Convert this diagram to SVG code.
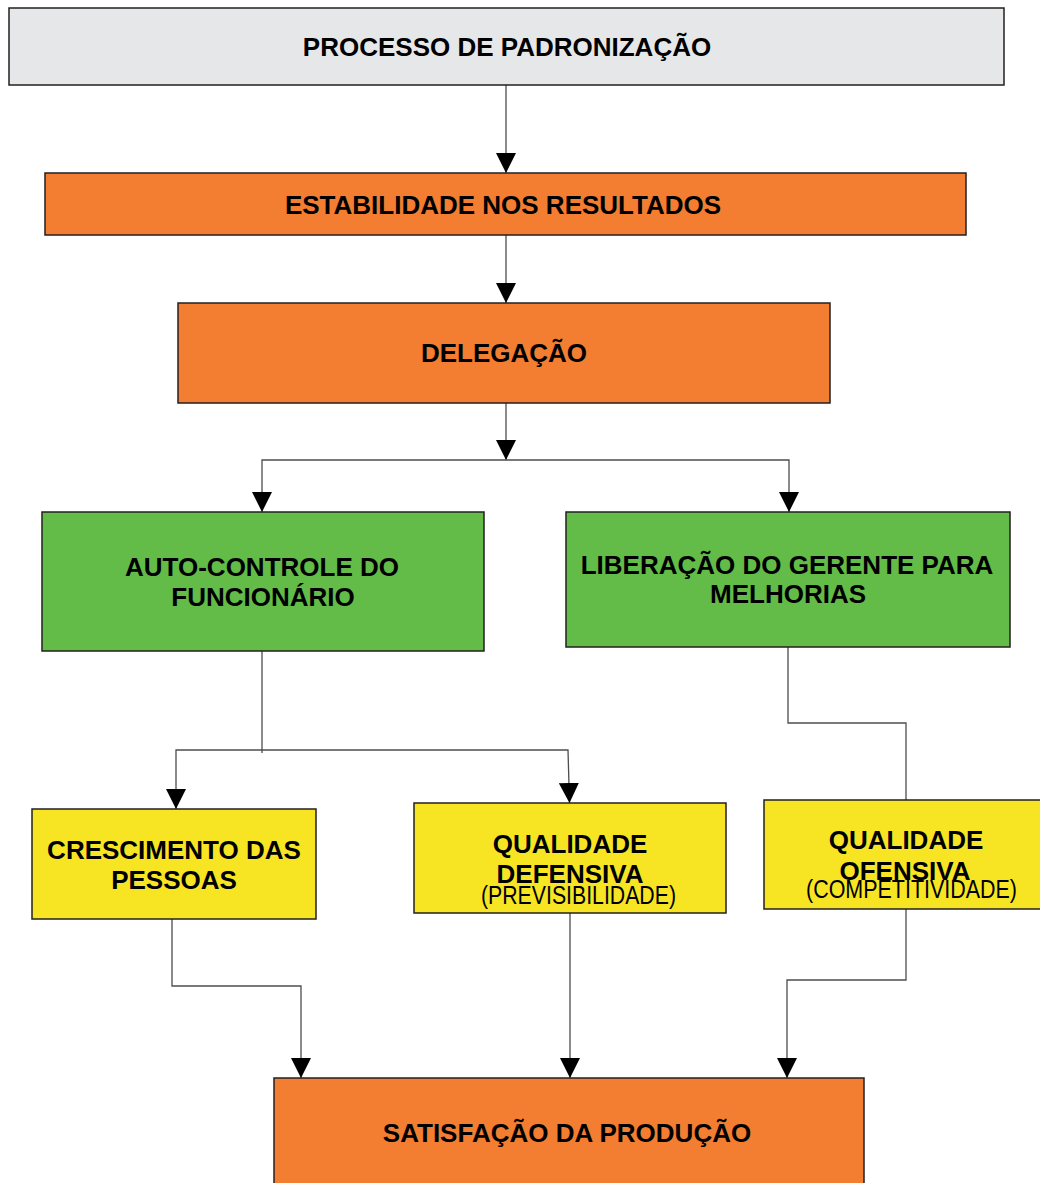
<svg xmlns="http://www.w3.org/2000/svg" width="1040" height="1183" viewBox="0 0 1040 1183">
<style>
.box{stroke:#231f20;stroke-width:1.5}
.gray{fill:#e6e7e8}
.orange{fill:#f37d31}
.green{fill:#63bc47}
.yellow{fill:#f7e524}
.t{font-family:"Liberation Sans",Arial,sans-serif;font-weight:bold;font-size:26px;fill:#000;text-anchor:middle}
.s{font-family:"Liberation Sans",Arial,sans-serif;font-size:25px;fill:#000;text-anchor:middle}
.c{fill:none;stroke:#4d4d4d;stroke-width:1.3}
</style>
<defs>
<marker id="ah" markerUnits="userSpaceOnUse" markerWidth="20" markerHeight="20" viewBox="0 0 20 20" refX="20" refY="10" orient="auto">
<path d="M0,0 L20,10 L0,20 Z" fill="#000"/>
</marker>
</defs>
<rect width="1040" height="1183" fill="#fff"/>
<g id="connectors">
<path class="c" d="M506,85 V173" marker-end="url(#ah)"/>
<path class="c" d="M506,235 V303" marker-end="url(#ah)"/>
<path class="c" d="M506,403 V460" marker-end="url(#ah)"/>
<path class="c" d="M506,460 H262 V512" marker-end="url(#ah)"/>
<path class="c" d="M506,460 H789 V512" marker-end="url(#ah)"/>
<path class="c" d="M262,651 V753"/>
<path class="c" d="M262,750 H176 V809" marker-end="url(#ah)"/>
<path class="c" d="M262,750 H568 L569.5,803" marker-end="url(#ah)"/>
<path class="c" d="M788,647 V723 H906 V800"/>
<path class="c" d="M172,919 V986 H301 V1078" marker-end="url(#ah)"/>
<path class="c" d="M570,913 V1078" marker-end="url(#ah)"/>
<path class="c" d="M906,909 V980 H787 V1078" marker-end="url(#ah)"/>
</g>
<g id="processo">
<rect class="box gray" x="9" y="8" width="995" height="77"/>
<text class="t" x="507" y="56">PROCESSO DE PADRONIZAÇÃO</text>
</g>
<g id="estabilidade">
<rect class="box orange" x="45" y="173" width="921" height="62"/>
<text class="t" x="503" y="214">ESTABILIDADE NOS RESULTADOS</text>
</g>
<g id="delegacao">
<rect class="box orange" x="178" y="303" width="652" height="100"/>
<text class="t" x="504" y="362">DELEGAÇÃO</text>
</g>
<g id="autocontrole">
<rect class="box green" x="42" y="512" width="442" height="139"/>
<text class="t" x="262" y="576">AUTO-CONTROLE DO</text>
<text class="t" x="263" y="606">FUNCIONÁRIO</text>
</g>
<g id="liberacao">
<rect class="box green" x="566" y="512" width="444" height="135"/>
<text class="t" x="787" y="574">LIBERAÇÃO DO GERENTE PARA</text>
<text class="t" x="788" y="603">MELHORIAS</text>
</g>
<g id="crescimento">
<rect class="box yellow" x="32" y="809" width="284" height="110"/>
<text class="t" x="174" y="859">CRESCIMENTO DAS</text>
<text class="t" x="174" y="889">PESSOAS</text>
</g>
<g id="defensiva">
<rect class="box yellow" x="414" y="803" width="312" height="110"/>
<text class="t" x="570" y="853">QUALIDADE</text>
<text class="t" x="570" y="883">DEFENSIVA</text>
<text class="s" x="578.5" y="904" textLength="195" lengthAdjust="spacingAndGlyphs">(PREVISIBILIDADE)</text>
</g>
<g id="ofensiva">
<rect class="box yellow" x="764" y="800" width="280" height="109"/>
<text class="t" x="906" y="849">QUALIDADE</text>
<text class="t" x="905" y="880">OFENSIVA</text>
<text class="s" x="911.5" y="898" textLength="211" lengthAdjust="spacingAndGlyphs">(COMPETITIVIDADE)</text>
</g>
<g id="satisfacao">
<rect class="box orange" x="274" y="1078" width="590" height="115"/>
<text class="t" x="567" y="1142">SATISFAÇÃO DA PRODUÇÃO</text>
</g>
</svg>
